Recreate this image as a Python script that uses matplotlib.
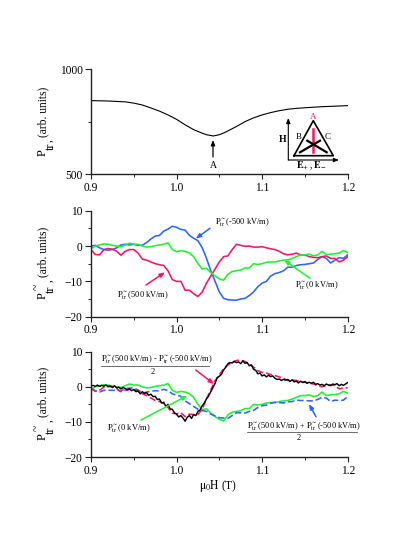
import matplotlib
matplotlib.use("Agg")
import matplotlib.pyplot as plt

plt.rcParams['font.family'] = ['Liberation Serif', 'DejaVu Serif']
plt.rcParams['mathtext.fontset'] = 'stix'

W, H = 395, 558
field_top = [0.90, 0.92, 0.94, 0.95, 0.96, 0.97, 0.98, 0.99, 1.00, 1.01, 1.02, 1.03, 1.035, 1.04, 1.043,
             1.05, 1.055, 1.06, 1.07, 1.08, 1.09, 1.10, 1.11, 1.12, 1.13, 1.14, 1.15, 1.17, 1.20]
p_top = [850, 848, 844, 838, 829, 815, 800, 782, 761, 735, 712, 695, 688, 684, 682,
         688, 696, 706, 727, 750, 768, 782, 793, 802, 809, 813, 816, 821, 826]

field = [0.900, 0.905, 0.910, 0.915, 0.920, 0.925, 0.930, 0.935, 0.940, 0.945, 0.950, 0.955, 0.960, 0.965, 0.970,
         0.975, 0.980, 0.985, 0.990, 0.995, 1.000, 1.005, 1.010, 1.015, 1.020, 1.025, 1.030, 1.035, 1.040, 1.045,
         1.050, 1.055, 1.060, 1.065, 1.070, 1.075, 1.080, 1.085, 1.090, 1.095, 1.100, 1.105, 1.110, 1.115, 1.120,
         1.125, 1.130, 1.135, 1.140, 1.145, 1.150, 1.155, 1.160, 1.165, 1.170, 1.175, 1.180, 1.185, 1.190, 1.195, 1.200]

p_minus500 = [0, 0.2, -0.5, -1, -1.2, -1, -0.5, 0.3, 0.5, 0.3, 0.5, 0.2, 0.2, 1, 2,
              2.8, 3, 4.2, 4.8, 5.6, 5.3, 4.7, 4.5, 3, 2.2, 1.5, -0.5, -3.5, -7, -10,
              -13, -14.8, -15.2, -15.3, -15.3, -15, -14.8, -14, -13, -11.5, -10.5, -10, -8.5, -7.8, -7.5,
              -7, -6, -6, -5.5, -5.3, -5.2, -5, -4.8, -3.8, -3, -3.5, -4.8, -4, -3.3, -3.5, -2.5]
p_plus500 = [-1, -2.4, -2.5, -1, -0.7, -0.9, -1.5, -2.6, -1.5, -1, -1, -2, -3.7, -4, -4.5,
             -5, -5.3, -5.5, -7, -9.5, -10, -10, -12.5, -12.5, -13.5, -14.3, -13, -10.5, -8.5, -6.5,
             -4.5, -3, -2.8, -1, 0.5, 0.2, -0.1, 0, -0.3, -0.3, -0.2, -0.5, -0.8, -1, -1.5,
             -2.2, -2.5, -2.3, -2, -2.5, -2.5, -3, -3.2, -3.3, -3, -2.8, -3.5, -3.5, -4.5, -4, -3]
p_zero = [-0.8, 0, 0.3, 0.6, 0.5, 0.2, 0, -0.2, 0.3, 0.8, 0.5, 0.5, 0, -0.3, -0.2,
          0.1, 0.3, 0.5, 0.9, -1, -1.6, -1.3, -1.5, -2, -3, -5, -6.5, -6.3, -7.5, -8.5,
          -9.3, -9.7, -8, -7.2, -7, -6.8, -6.2, -6.2, -5, -5.2, -5, -4.6, -4.5, -4.5, -4.2,
          -4, -3.9, -3.5, -3, -2.5, -2.5, -2.3, -2.8, -2.5, -1.5, -2.5, -2.3, -2.2, -2, -1.3, -1.8]
p_diff = [0.2, 0.4, 0.1, 0.5, 0.1, 0.4, 0.2, 0.5, 0, 0.2, -0.2, 0.3, -0.3, -0.1, -0.6, -0.2, -0.5, -0.9, -0.6, -1.1,
          -0.8, -1.4, -1.2, -2, -1.4, -1.9, -1.7, -2.4, -2.1, -2.8, -2.7, -3.6, -3.5, -4.6, -4.4, -5.6, -5, -6.3, -6.4, -7.4,
          -7.8, -8.6, -8.2, -8.9, -9.8, -8.7, -8.2, -9, -7.9, -8.2, -7, -6.6, -5.4, -4.6, -3.4, -2.6, -1.4, -0.2, 1, 2.6,
          3, 3.6, 4.8, 5.6, 6.6, 6.9, 6.8, 7.2, 6.9, 7.1, 6.6, 7.4, 6.7, 6.9, 6, 6.2, 5, 4.7, 3.7, 3.9,
          3.1, 3.4, 2.8, 3.3, 2.9, 3.1, 2.4, 2.1, 2.2, 1.8, 2.1, 1.9, 2.1, 1.5, 2, 1.4, 1.6, 1.1, 1.6, 1.2,
          1.5, 1, 1.3, 1, 1.3, 0.7, 0.9, 0.5, 0.7, 0.3, 0.8, 0.5, 0.3, 0.8, 0.6, 0.9, 0.3, 0.7, 0.4, 0.8, 1.2]
field_fine = [0.9 + 0.0025 * i for i in range(len(p_diff))]
p_diff_dash = [-0.5, -1.3, -1, -0.1, 0.2, 0, -0.5, -1.4, -1, -0.7, -0.8, -1.1, -2, -2.5, -3.2,
               -3.9, -4.2, -4.8, -5.9, -7.5, -7.7, -7.4, -8.5, -7.8, -7.9, -7.9, -6.3, -3.5, -0.8, 1.7,
               3.4, 5.2, 6.2, 7.1, 7.5, 7.6, 7.2, 6.5, 5.6, 4.6, 4.1, 3.9, 3.5, 3.2, 2.8,
               2.4, 1.8, 1.9, 1.8, 1.4, 1.3, 1, 0.8, 0.3, 0, 0.4, 0.6, 0.3, -0.6, -0.3, -0.3]
p_sum_dash = [-0.5, -1.1, -1.5, -1, -1, -1, -1, -1.2, -0.5, -0.4, -0.3, -0.9, -1.8, -1.5, -1.3,
              -1.1, -1.2, -0.7, -1.1, -2, -2.4, -2.7, -4, -4.8, -5.6, -6.4, -6.8, -7, -7.8, -8.3,
              -8.8, -8.9, -9, -8.2, -7.4, -7.4, -7.5, -7, -6.7, -5.9, -5.4, -5.2, -4.7, -4.4, -4.5,
              -4.6, -4.3, -4.2, -3.8, -3.9, -3.9, -4, -4, -3.6, -3, -3.2, -4.2, -3.8, -3.9, -3.8, -2.8]

x_ticks = [0.9, 1.0, 1.1, 1.2]
x_minor = [0.95, 1.05, 1.15]
COL_BLUE, COL_PINK, COL_GREEN = '#2e64ff', '#ff1464', '#22f030'
TS, AS = 8.3, 6.0
LW = 1.15

fig = plt.figure(figsize=(W/100, H/100), dpi=100)

def make_ax(top, bottom, ylim, yticks, yminor):
    ax = fig.add_axes([91/W, 1-bottom/H, (347.7-91)/W, (bottom-top)/H])
    ax.set_xlim(0.9, 1.2); ax.set_ylim(*ylim)
    ax.spines['top'].set_visible(False); ax.spines['right'].set_visible(False)
    for s in ('left', 'bottom'):
        ax.spines[s].set_linewidth(1.0)
        ax.spines[s].set_color('#222222')
    ax.set_xticks(x_ticks); ax.set_xticklabels(['%.1f' % v for v in x_ticks])
    ax.set_xticks(x_minor, minor=True)
    ax.set_yticks(yticks); ax.set_yticks(yminor, minor=True)
    ax.tick_params(axis='y', which='major', length=4, width=0.8, labelsize=TS, pad=2, color='#222222')
    ax.tick_params(axis='x', which='major', length=3.5, width=0.8, labelsize=TS, pad=2, color='#222222')
    ax.tick_params(which='minor', length=2, width=0.7, color='#222222')
    ax.patch.set_alpha(0)
    return ax

ax1 = make_ax(69, 174.3, (500, 1000), [500, 1000], [750])
ax1.plot(field_top, p_top, color='k', lw=0.8)

ax2 = make_ax(210.7, 316.7, (-20, 10), [-20, -10, 0, 10], [-15, -5, 5])
ax2.plot(field, p_minus500, color=COL_BLUE, lw=LW)
ax2.plot(field, p_plus500, color=COL_PINK, lw=LW)
ax2.plot(field, p_zero, color=COL_GREEN, lw=LW)

ax3 = make_ax(351.7, 457, (-20, 10), [-20, -10, 0, 10], [-15, -5, 5])
ax3.plot(field, p_zero, color=COL_GREEN, lw=LW)
ax3.plot(field, p_sum_dash, color=COL_BLUE, lw=LW, ls=(0, (4, 1.8)))
ax3.plot(field, p_diff_dash, color=COL_PINK, lw=LW, ls=(0, (4, 1.8)))
ax3.plot(field_fine, p_diff, color='k', lw=1.05)

ov = fig.add_axes([0, 0, 1, 1]); ov.set_xlim(0, W); ov.set_ylim(H, 0); ov.axis('off')

def txt(x, y, s, size=AS, ha='left', va='center', **kw):
    ov.text(x, y, s, fontsize=size, ha=ha, va=va, **kw)

def arrow(x0, y0, x1, y1, c, lw=1.1):
    ov.annotate('', xy=(x1, y1), xytext=(x0, y0),
                arrowprops=dict(arrowstyle='-|>,head_length=0.3,head_width=0.12', color=c, lw=lw,
                                shrinkA=0, shrinkB=0))

P = r'$\mathrm{P}_{\mathrm{tr}}^{\sim}$'

def ylabel(y_units, y_p, y_tr, tilde):
    txt(43, y_units, '(arb. units)', TS, ha='center', rotation=90)
    txt(48, y_units + 29, ',', TS, ha='center', rotation=90)
    txt(43, y_p, 'P', TS + 0.5, ha='center', rotation=90)
    txt(51, y_tr, 'tr', TS + 0.5, ha='center', rotation=90)
    if tilde:
        txt(37, y_tr - 2, '~', TS, ha='center', rotation=90)

ylabel(112, 153, 146, False)
ylabel(252, 296, 289, True)
ylabel(392, 437, 430, True)
txt(218, 486, r'$\mathrm{\mu_0H}$ (T)', TS, ha='center')

arrow(213, 157, 213, 140, 'k', 0.9)
txt(213, 165, 'A', 7, ha='center')

# inset
ov.plot([294, 313.3, 333.3, 294], [155.7, 120.7, 155.7, 155.7], color='k', lw=1.2)
ov.plot([313.3, 313.3], [129, 152], color=COL_PINK, lw=1.8)
ov.plot([300, 320], [152.3, 140.7], color='k', lw=1.6)
ov.plot([326.7, 307.3], [152.3, 140.7], color='k', lw=1.6)
arrow(288.3, 160, 288.3, 118, 'k', 0.8)
arrow(288.3, 160, 339, 160, 'k', 0.8)
txt(282.7, 139, 'H', 7, ha='center', fontweight='bold')
txt(313.3, 116.7, 'A', 6.5, ha='center', color=COL_PINK)
txt(298.7, 137.3, 'B', 6.5, ha='center')
txt(327.3, 137.3, 'C', 6.5, ha='center')
txt(311.5, 165.5, r'$\mathbf{E}_{\!+}$, $\mathbf{E}_{\!-}$', 7, ha='center')

# middle
arrow(210, 228.3, 195.7, 238.7, COL_BLUE)
txt(215, 222.7, P + '(-500 kV/m)')
arrow(146, 285, 165, 272.3, COL_PINK)
txt(116.7, 296, P + '(500 kV/m)')
arrow(310, 278.3, 284, 260, COL_GREEN)
txt(295, 285.7, P + '(0 kV/m)')

# bottom
arrow(195.7, 370, 214, 384, COL_PINK)
txt(100.7, 360, P + '(500 kV/m) - ' + P + '(-500 kV/m)')
ov.plot([100.7, 209], [365.7, 365.7], color='#555555', lw=0.6)
txt(152.3, 372.3, '2', ha='center')
arrow(141, 420, 187.3, 395.7, COL_GREEN)
txt(107.3, 429, P + '(0 kV/m)')
arrow(316, 416.7, 309, 404, COL_BLUE)
txt(247.3, 426.7, P + '(500 kV/m) + ' + P + '(-500 kV/m)')
ov.plot([247.3, 357.3], [432, 432], color='#555555', lw=0.6)
txt(298.7, 438.3, '2', ha='center')

fig.savefig('out.png', dpi=100)
